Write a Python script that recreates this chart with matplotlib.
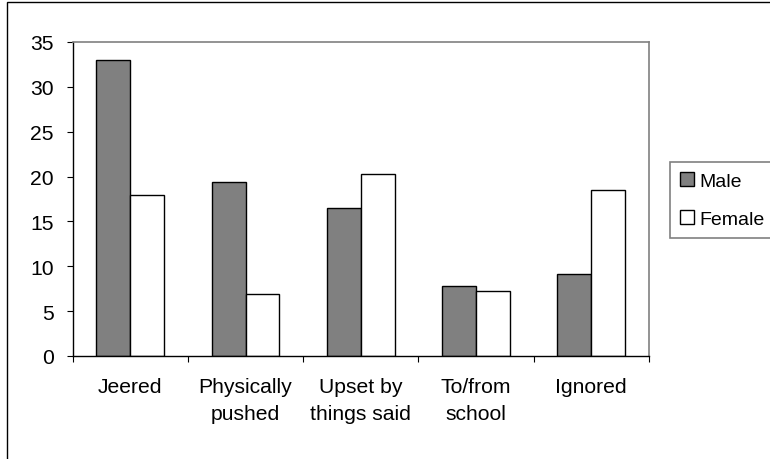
import matplotlib
matplotlib.use("Agg")
import matplotlib.pyplot as plt
from matplotlib.patches import Rectangle
import numpy as np

categories = ["Jeered", "Physically\npushed", "Upset by\nthings said", "To/from\nschool", "Ignored"]
male = [33.0, 19.4, 16.5, 7.8, 9.1]
female = [17.9, 6.9, 20.3, 7.3, 18.5]
series_names = ["Male", "Female"]
yticks = [0, 5, 10, 15, 20, 25, 30, 35]

plt.rcParams['font.family'] = ['Liberation Sans', 'DejaVu Sans']

W, H = 770, 460
fig = plt.figure(figsize=(W / 100, H / 100), dpi=100)
ax = fig.add_axes([72.7 / W, 1 - 357 / H, (648.7 - 72.7) / W, (357 - 43) / H])

x = np.arange(len(categories)) + 0.5
w = 0.295
ax.bar(x - w / 2, male, w, color="#808080", edgecolor="black", linewidth=1.0, label=series_names[0])
ax.bar(x + w / 2, female, w, color="white", edgecolor="black", linewidth=1.0, label=series_names[1])

ax.set_xlim(0, len(categories))
ax.set_ylim(0, 35)
ax.set_yticks(yticks)
ax.set_yticklabels([str(t) for t in yticks], fontsize=15.2)
ax.set_xticks(x)
ax.set_xticklabels(categories, fontsize=15.2, linespacing=1.55)
ax.set_xticks(np.arange(len(categories) + 1), minor=True)
ax.tick_params(axis='x', which='major', length=0, pad=15)
ax.tick_params(axis='x', which='minor', length=4.5, width=0.8, direction='out')
ax.tick_params(axis='y', which='major', length=4.5, width=0.8, direction='out', pad=9)

for s in ['top', 'right']:
    ax.spines[s].set_color('#808080')
    ax.spines[s].set_linewidth(1.2)
for s in ['left', 'bottom']:
    ax.spines[s].set_color('black')
    ax.spines[s].set_linewidth(1.0)

leg = fig.legend(loc='upper left', bbox_to_anchor=(670 / W, 1 - 163 / H),
                 fontsize=14, frameon=True, fancybox=False, handlelength=0.75,
                 handleheight=0.75, handletextpad=0.25, labelspacing=1.05,
                 borderpad=0.5, borderaxespad=0)
leg.get_frame().set_edgecolor('#606060')
leg.get_frame().set_linewidth(1.2)

# outer chart border (top and left visible, rest cropped)
fig.patches.append(Rectangle((7 / W, -0.1), 1.2, 1 - 3 / H + 0.1, transform=fig.transFigure,
                             fill=False, edgecolor='black', linewidth=1.0))

fig.savefig("out.png", dpi=100)
